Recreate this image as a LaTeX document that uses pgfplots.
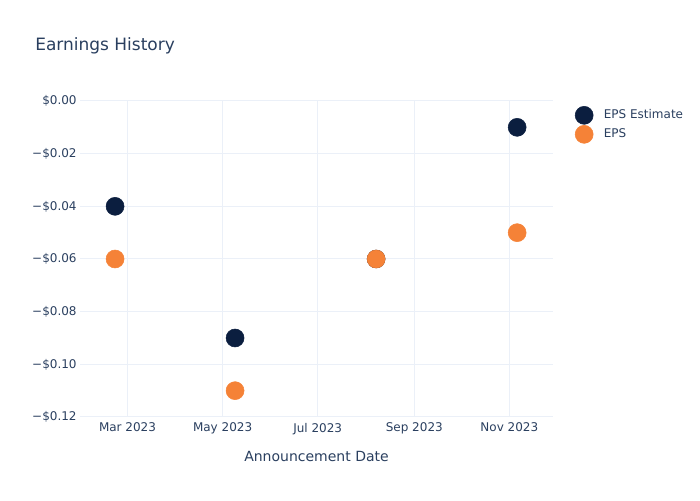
\documentclass[border=0pt]{standalone}
\usepackage{pgfplots}
\pgfplotsset{compat=1.18}
\usepackage{fontspec}
\setmainfont{DejaVu Sans}
\definecolor{txt}{HTML}{2A3F5F}
\definecolor{grid}{HTML}{EBF0F8}
\definecolor{navy}{HTML}{0B1E3F}
\definecolor{orng}{HTML}{F58237}
\begin{document}
\begin{tikzpicture}[x=0.75pt,y=0.75pt]
\path[use as bounding box] (0,0) rectangle (700,500);
\begin{axis}[
  at={(60pt,62.25pt)}, anchor=south west,
  width=354.75pt, height=237pt, scale only axis,
  xmin=28.5, xmax=332, ymin=-0.12, ymax=0,
  axis line style={draw=none},
  tick style={draw=none},
  grid=major, major grid style={color=grid, line width=0.75pt},
  xtick={59,120,181,243,304},
  xticklabels={Mar 2023,May 2023,Jul 2023,Sep 2023,Nov 2023},
  ytick={-0.12,-0.10,-0.08,-0.06,-0.04,-0.02,0},
  yticklabels={−\$0.12,−\$0.10,−\$0.08,−\$0.06,−\$0.04,−\$0.02,\$0.00},
  ticklabel style={font=\fontsize{9}{11}\selectfont, text=txt},
  xticklabel style={yshift=-1pt},
  yticklabel style={xshift=1pt},
  clip=false,
  legend style={at={(axis description cs:1.0463,0.984)}, anchor=north west, draw=none, fill=none,
    font=\fontsize{9}{11}\selectfont, text=txt, row sep=0.75pt, column sep=6pt, inner sep=0pt},
  legend cell align=left,
]
\addplot[only marks, mark=*, mark size=6.75pt, color=navy] coordinates {(51,-0.04) (128,-0.09) (218.5,-0.06) (309,-0.01)};
\addlegendentry{EPS Estimate}
\addplot[only marks, mark=*, mark size=6.75pt, color=orng] coordinates {(51,-0.06) (128,-0.11) (218.5,-0.06) (309,-0.05)};
\addlegendentry{EPS}
\end{axis}
\node[anchor=base west, text=txt, font=\fontsize{12.75}{15}\selectfont, inner sep=0pt] at (35,449) {Earnings History};
\node[anchor=base, text=txt, font=\fontsize{10.5}{13}\selectfont, inner sep=0pt] at (316.5,38) {Announcement Date};
\end{tikzpicture}
\end{document}
